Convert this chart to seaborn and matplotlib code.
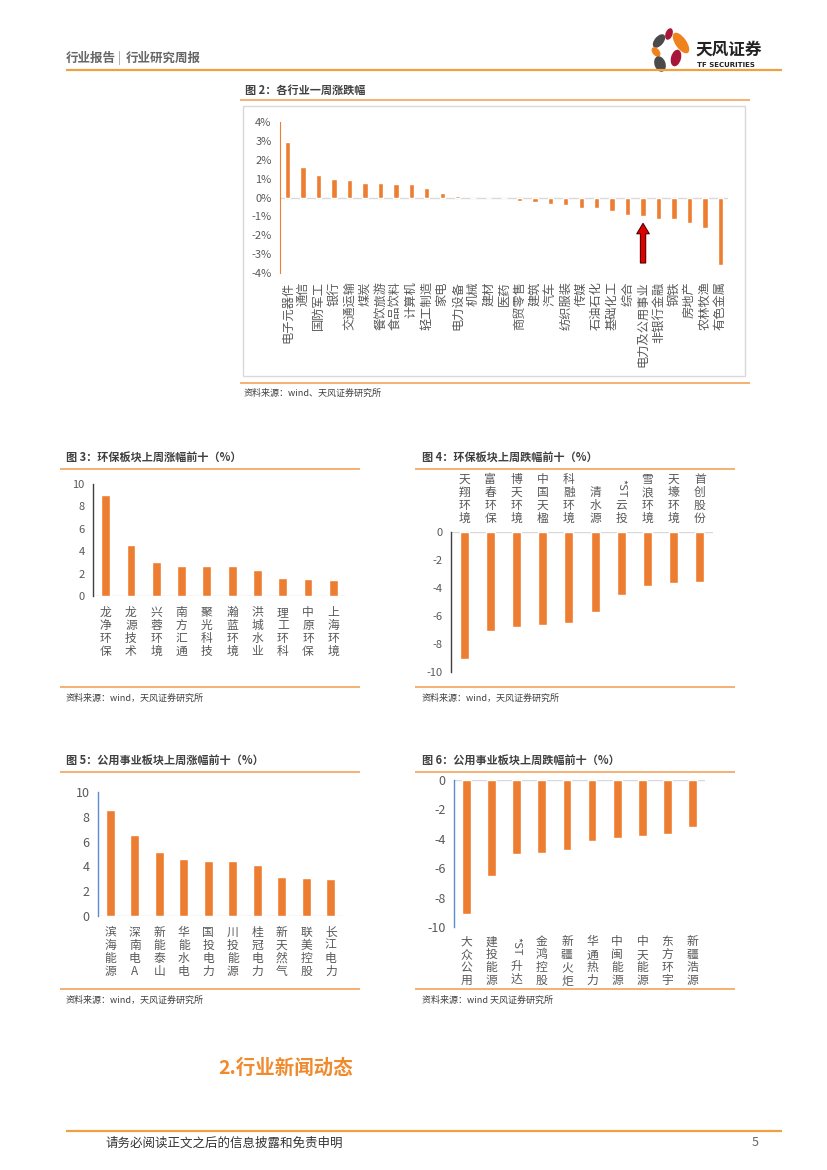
import matplotlib
matplotlib.use("Agg")
import matplotlib.pyplot as plt
import matplotlib.transforms as mtransforms
from matplotlib.patches import Ellipse, Rectangle
import seaborn as sns

# ---- data ----
industry_names = ["电子元器件", "通信", "国防军工", "银行", "交通运输", "煤炭", "餐饮旅游",
                  "食品饮料", "计算机", "轻工制造", "家电", "电力设备", "机械", "建材", "医药",
                  "商贸零售", "建筑", "汽车", "纺织服装", "传媒", "石油石化", "基础化工", "综合",
                  "电力及公用事业", "非银行金融", "钢铁", "房地产", "农林牧渔", "有色金属"]
industry_chg = [2.93, 1.61, 1.17, 0.96, 0.95, 0.78, 0.78, 0.74, 0.73, 0.52, 0.24, 0.06,
                -0.01, -0.01, -0.01, -0.2, -0.26, -0.37, -0.42, -0.54, -0.55, -0.7, -0.93,
                -0.98, -1.12, -1.12, -1.35, -1.6, -3.6]
pct_ticks = [-4, -3, -2, -1, 0, 1, 2, 3, 4]

env_up_names = ["龙净环保", "龙源技术", "兴蓉环境", "南方汇通", "聚光科技",
                "瀚蓝环境", "洪城水业", "理工环科", "中原环保", "上海环境"]
env_up_chg = [9.03, 4.57, 3.0, 2.72, 2.64, 2.64, 2.34, 1.62, 1.5, 1.42]

env_down_names = ["天翔环境", "富春环保", "博天环境", "中国天楹", "科融环境",
                  "清水源", "*ST云投", "雪浪环境", "天壕环境", "首创股份"]
env_down_chg = [-9.05, -7.06, -6.78, -6.61, -6.47, -5.73, -4.48, -3.86, -3.67, -3.6]

util_up_names = ["滨海能源", "深南电A", "新能泰山", "华能水电", "国投电力",
                 "川投能源", "桂冠电力", "新天然气", "联美控股", "长江电力"]
util_up_chg = [8.57, 6.56, 5.14, 4.63, 4.47, 4.41, 4.15, 3.13, 3.05, 2.97]

util_down_names = ["大众公用", "建投能源", "*ST升达", "金鸿控股", "新疆火炬",
                   "华通热力", "中闽能源", "中天能源", "东方环宇", "新疆浩源"]
util_down_chg = [-9.1, -6.56, -5.06, -4.98, -4.76, -4.12, -3.92, -3.83, -3.64, -3.22]

ORANGE = "#ED7D31"
LINE_OR = "#F2A35A"
GRID = "#D9D9D9"
TXT = "#595959"

sns.set_style("white")
plt.rcParams["font.family"] = ["Noto Sans CJK SC", "DejaVu Sans"]
plt.rcParams["axes.unicode_minus"] = False

W, H = 827, 1170
fig = plt.figure(figsize=(W / 100, H / 100), dpi=100)

# page overlay in pixel coordinates
bg = fig.add_axes([0, 0, 1, 1], zorder=-1)
bg.set_xlim(0, W)
bg.set_ylim(H, 0)
bg.axis("off")


def add_ax(l, t, r, b):
    return fig.add_axes([l / W, 1 - b / H, (r - l) / W, (b - t) / H])


def hline(x0, x1, y, color=LINE_OR, lw=1.2):
    bg.plot([x0, x1], [y, y], color=color, lw=lw, solid_capstyle="butt")


def stack(name):
    # "*ST" is drawn separately, rotated
    if name.startswith("*ST"):
        name = name[3:]
    return "\n".join(name)


def bar_panel(ax, names, vals, ylim, yticks, spine_color, lsize, ysize, pad, top=False):
    sns.barplot(x=names, y=vals, color=ORANGE, saturation=1, width=0.35,
                errorbar=None, ax=ax)
    ax.set_xlim(-0.5, len(names) - 0.5)
    ax.set_ylim(*ylim)
    for s in ax.spines.values():
        s.set_visible(False)
    ax.spines["left"].set_visible(True)
    ax.spines["left"].set_color(spine_color)
    ax.spines["left"].set_linewidth(1.0)
    ax.axhline(0, color=GRID, lw=1.0, zorder=0)
    ax.set_yticks(yticks)
    ax.set_yticklabels([str(v) for v in yticks])
    ax.tick_params(axis="y", length=3, width=1, color=spine_color, labelsize=ysize,
                   labelcolor=TXT, pad=3)
    ax.set_xticks(range(len(names)))
    if top:
        ax.xaxis.tick_top()
    ax.set_xticklabels([stack(n) for n in names], fontsize=lsize, color=TXT,
                       linespacing=1.0)
    ax.tick_params(axis="x", length=0, pad=pad)
    ax.set_xlabel("")
    ax.set_ylabel("")


# ---- header ----
bg.text(66, 58, "行业报告", fontsize=9, color="#666666", fontweight="bold", va="center")
bg.text(118, 58, "|", fontsize=9, color="#999999", va="center")
bg.text(126, 58, "行业研究周报", fontsize=9, color="#666666", fontweight="bold", va="center")
hline(66, 782, 70, color="#F0A040", lw=1.6)

petals = [((669, 34), 7, 12, 20, "#A8173A"),
          ((659, 41), 9, 16, 40, "#4A4A4A"),
          ((681, 43), 11, 24, -35, "#F0821E"),
          ((656, 52), 7, 11, -40, "#F0821E"),
          ((676, 58), 10, 17, 15, "#A8173A"),
          ((660, 64), 11, 16, -20, "#4A4A4A")]
for c, w, h, a, col in petals:
    bg.add_patch(Ellipse(c, w, h, angle=a, color=col, lw=0))
bg.text(695, 50, "天风证券", fontsize=12, fontweight="bold", color="#222222", va="center")
bg.text(697, 65, "TF SECURITIES", fontsize=5, fontweight="bold", color="#222222",
        va="center", family=["DejaVu Sans"])

# ---- figure 2: industries ----
bg.text(245, 90, "图 2：各行业一周涨跌幅", fontsize=8, fontweight="bold", color="#404040",
        va="center")
hline(240, 750, 100)
bg.add_patch(Rectangle((243, 106), 502, 270, fill=False, ec=GRID, lw=1.0))
hline(240, 750, 383)
bg.text(244, 393, "资料来源：wind、天风证券研究所", fontsize=6.5, color="#404040", va="center")

ax1 = add_ax(280, 122, 728, 273)
sns.barplot(x=industry_names, y=industry_chg, color=ORANGE, saturation=1, width=0.35,
            errorbar=None, ax=ax1)
ax1.set_xlim(-0.5, len(industry_names) - 0.5)
ax1.set_ylim(-4, 4)
for s in ax1.spines.values():
    s.set_visible(False)
ax1.spines["left"].set_visible(True)
ax1.spines["left"].set_color(ORANGE)
ax1.axhline(0, color=GRID, lw=1.0, zorder=0)
ax1.set_yticks(pct_ticks)
ax1.set_yticklabels([f"{v}%" for v in pct_ticks])
ax1.tick_params(axis="y", length=3, color=ORANGE, labelsize=8, labelcolor=TXT, pad=3)
ax1.set_xticks(range(len(industry_names)))
ax1.set_xticklabels(industry_names, rotation=90, fontsize=8.8, color=TXT)
ax1.tick_params(axis="x", length=0, pad=6)
ax1.set_xlabel("")
ax1.set_ylabel("")
arrow_idx = industry_names.index("电力及公用事业")
ax1.annotate("", xy=(arrow_idx, -1.37), xytext=(arrow_idx, -3.47),
             arrowprops=dict(arrowstyle="simple,head_length=0.75,head_width=0.9,tail_width=0.38",
                             mutation_scale=10, fc="#E00000", ec="#500000", lw=0.8,
                             shrinkA=0, shrinkB=0))

# ---- figure 3 ----
bg.text(66, 457, "图 3：环保板块上周涨幅前十（%）", fontsize=8, fontweight="bold",
        color="#404040", va="center")
hline(60, 360, 469)
ax3 = add_ax(93, 484, 346, 596)
bar_panel(ax3, env_up_names, env_up_chg, (0, 10), [0, 2, 4, 6, 8, 10], "#404040",
          8.5, 8, 7)
hline(60, 360, 687)
bg.text(66, 698, "资料来源：wind，天风证券研究所", fontsize=6.5, color="#404040", va="center")

# ---- figure 4 ----
bg.text(422, 457, "图 4：环保板块上周跌幅前十（%）", fontsize=8, fontweight="bold",
        color="#404040", va="center")
hline(415, 735, 469)
ax4 = add_ax(451, 532, 713, 672)
bar_panel(ax4, env_down_names, env_down_chg, (-10, 0), [-10, -8, -6, -4, -2, 0],
          "#404040", 8.5, 8, 5, top=True)
hline(415, 735, 687)
bg.text(422, 698, "资料来源：wind，天风证券研究所", fontsize=6.5, color="#404040", va="center")
st4 = env_down_names.index("*ST云投")
tr4 = mtransforms.blended_transform_factory(ax4.transData, bg.transData)
ax4.text(st4, 488, "*ST", transform=tr4, rotation=-90, fontsize=8, color=TXT,
         ha="center", va="center")

# ---- figure 5 ----
bg.text(66, 760, "图 5：公用事业板块上周涨幅前十（%）", fontsize=8, fontweight="bold",
        color="#404040", va="center")
hline(60, 360, 772)
ax5 = add_ax(98, 792, 343, 916)
bar_panel(ax5, util_up_names, util_up_chg, (0, 10), [0, 2, 4, 6, 8, 10], "#5B8BD0",
          8.5, 9, 7)
hline(60, 360, 989)
bg.text(66, 1000, "资料来源：wind，天风证券研究所", fontsize=6.5, color="#404040", va="center")

# ---- figure 6 ----
bg.text(422, 760, "图 6：公用事业板块上周跌幅前十（%）", fontsize=8, fontweight="bold",
        color="#404040", va="center")
hline(415, 735, 772)
ax6 = add_ax(454, 780, 705, 927)
bar_panel(ax6, util_down_names, util_down_chg, (-10, 0), [-10, -8, -6, -4, -2, 0],
          "#5B8BD0", 8.5, 9, 6)
hline(415, 735, 989)
bg.text(422, 1000, "资料来源：wind 天风证券研究所", fontsize=6.5, color="#404040", va="center")
st6 = util_down_names.index("*ST升达")
ax6.xaxis.get_major_ticks()[st6].set_pad(24)
tr6 = mtransforms.blended_transform_factory(ax6.transData, bg.transData)
ax6.text(st6, 946, "*ST", transform=tr6, rotation=-90, fontsize=8, color=TXT,
         ha="center", va="center")

# ---- section title and footer ----
bg.text(218, 1068, "2.行业新闻动态", fontsize=14, fontweight="bold", color="#F08A2C",
        va="center")
hline(66, 782, 1131, color="#F0A040", lw=1.6)
bg.text(105, 1143, "请务必阅读正文之后的信息披露和免责申明", fontsize=9, color="#333333",
        va="center")
bg.text(752, 1143, "5", fontsize=9, color="#666666", va="center")

fig.savefig("out.png", dpi=100)
plt.close(fig)
